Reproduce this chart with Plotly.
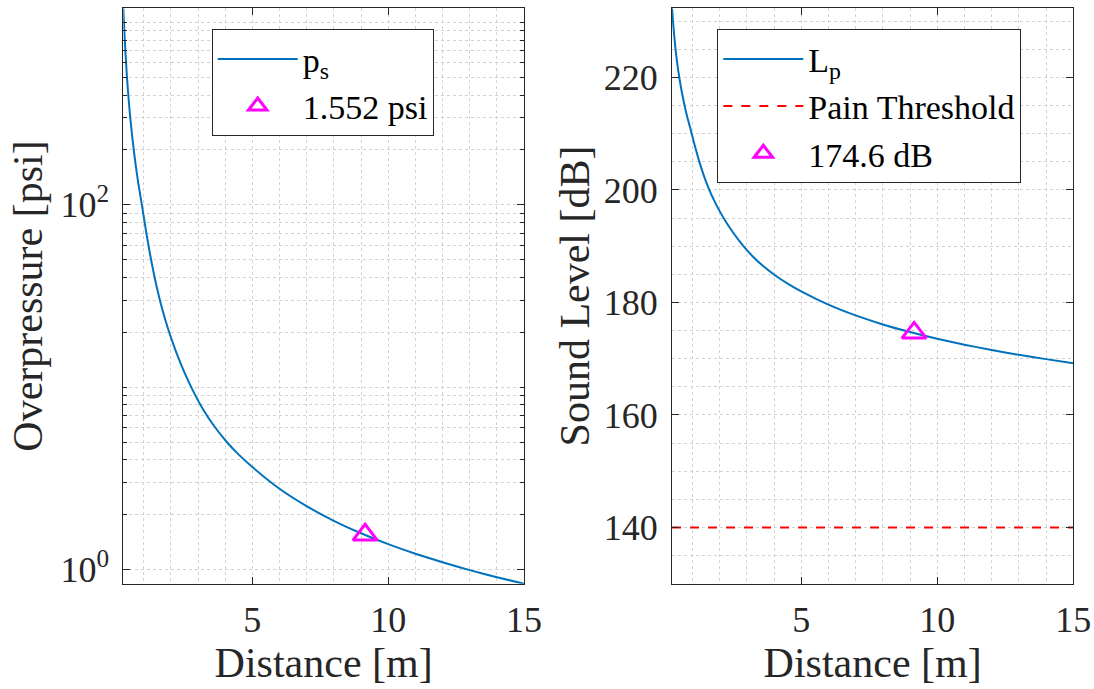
import plotly.graph_objects as go

# ---- data ----
distance_m = [0.25, 0.30, 0.38, 0.45, 0.51, 0.60, 0.70, 0.80, 0.94, 1.00, 1.10, 1.25,
              1.415, 1.60, 1.80, 1.97, 2.20, 2.50, 2.80, 3.20, 3.60, 4.06, 4.50, 5.0,
              6.0, 7.0, 8.0, 9.0, 10.0, 11.0, 12.0, 13.0, 14.0, 15.0]
overpressure_psi = [1197, 823.4, 513.2, 373.4, 296.6, 221.3, 167.8, 131.9, 98.7, 86.6,
                    69.9, 52.1, 39.2, 29.9, 23.3, 19.4, 15.55, 12.07, 9.68, 7.51, 6.11,
                    5.01, 4.27, 3.65, 2.776, 2.227, 1.852, 1.583, 1.380, 1.223, 1.097,
                    0.994, 0.909, 0.837]
sound_level_db = [232.31, 229.06, 224.95, 222.19, 220.19, 217.65, 215.24, 213.15, 210.63,
                  209.50, 207.64, 205.09, 202.61, 200.26, 198.11, 196.51, 194.59, 192.39,
                  190.47, 188.27, 186.47, 184.75, 183.37, 181.99, 179.62, 177.70, 176.10,
                  174.74, 173.55, 172.50, 171.55, 170.70, 169.93, 169.21]
marker_distance = 9.15
marker_psi = 1.552
marker_db = 174.6
pain_threshold_db = 140
threshold_x = [0.25, 15.0]

left_yticks = [1, 100]
left_yticktext = ["10<sup>0</sup>", "10<sup>2</sup>"]
left_yminor = [2, 3, 4, 5, 6, 7, 8, 9, 10, 20, 30, 40, 50, 60, 70, 80, 90,
               200, 300, 400, 500, 600, 700, 800, 900, 1000]
xticks = [5, 10, 15]
right_yticks = [140, 160, 180, 200, 220]

FONT = "Liberation Serif"
AX = "#262626"
GRID = "#d2d2d2"
BLUE = "#0072BD"
MAG = "#FF00FF"

fig = go.Figure()
fig.add_trace(go.Scatter(x=distance_m, y=overpressure_psi, mode="lines",
                         line=dict(color=BLUE, width=2, shape="spline", smoothing=0.5),
                         name="p<sub>s</sub>", xaxis="x", yaxis="y", legend="legend"))
fig.add_trace(go.Scatter(x=[marker_distance], y=[marker_psi], mode="markers",
                         marker=dict(symbol="triangle-up-open", size=21, color=MAG,
                                     line=dict(color=MAG, width=3)),
                         name="1.552 psi", xaxis="x", yaxis="y", legend="legend"))
fig.add_trace(go.Scatter(x=distance_m, y=sound_level_db, mode="lines",
                         line=dict(color=BLUE, width=2, shape="spline", smoothing=0.5),
                         name="L<sub>p</sub>", xaxis="x2", yaxis="y2", legend="legend2"))
fig.add_trace(go.Scatter(x=threshold_x, y=[pain_threshold_db] * len(threshold_x), mode="lines",
                         line=dict(color="#FF0000", width=2, dash="dash"),
                         name="Pain Threshold", xaxis="x2", yaxis="y2", legend="legend2"))
fig.add_trace(go.Scatter(x=[marker_distance], y=[marker_db], mode="markers",
                         marker=dict(symbol="triangle-up-open", size=21, color=MAG,
                                     line=dict(color=MAG, width=3)),
                         name="174.6 dB", xaxis="x2", yaxis="y2", legend="legend2"))

common = dict(showline=True, linecolor=AX, linewidth=1, mirror="ticks",
              ticks="inside", ticklen=7, tickcolor=AX, tickwidth=1,
              showgrid=True, gridcolor=GRID, griddash="dot", gridwidth=1,
              zeroline=False, automargin=False,
              tickfont=dict(family=FONT, size=36, color=AX))
TITLE_FONT = dict(family=FONT, size=42, color=AX)

xdom1 = [0.1127, 0.4790]
xdom2 = [0.6143, 0.9810]
ydom = [0.1528, 0.988]

fig.update_layout(
    width=1094, height=689,
    margin=dict(l=0, r=0, t=0, b=0, autoexpand=False),
    paper_bgcolor="white", plot_bgcolor="white",
    font=dict(family=FONT, color=AX),
    xaxis=dict(domain=xdom1, anchor="y", range=[0.25, 15], tickvals=xticks,
               title=dict(text="Distance [m]", font=TITLE_FONT, standoff=4),
               minor=dict(dtick=1, tick0=0, showgrid=True, gridcolor=GRID, griddash="dot", ticks=""),
               ticklabelstandoff=4, **common),
    yaxis=dict(domain=ydom, anchor="x", type="log", range=[-0.0772, 3.078],
               tickvals=left_yticks, ticktext=left_yticktext,
               title=dict(text="Overpressure [psi]", font=TITLE_FONT, standoff=4),
               minor=dict(tickvals=left_yminor, showgrid=True, gridcolor=GRID, griddash="dot",
                          ticks="inside", ticklen=4, tickcolor=AX),
               ticklabelstandoff=6, **common),
    xaxis2=dict(domain=xdom2, anchor="y2", range=[0.25, 15], tickvals=xticks,
                title=dict(text="Distance [m]", font=TITLE_FONT, standoff=4),
                minor=dict(dtick=1, tick0=0, showgrid=True, gridcolor=GRID, griddash="dot", ticks=""),
                ticklabelstandoff=4, **common),
    yaxis2=dict(domain=ydom, anchor="x2", range=[130, 232.31], tickvals=right_yticks,
                title=dict(text="Sound Level [dB]", font=TITLE_FONT, standoff=1),
                minor=dict(dtick=5, tick0=0, showgrid=True, gridcolor=GRID, griddash="dot", ticks=""),
                ticklabelstandoff=6, **common),
    legend=dict(x=0.1935, y=0.9575, xanchor="left", yanchor="top",
                bgcolor="white", bordercolor=AX, borderwidth=1,
                font=dict(family=FONT, size=34, color="black"), itemwidth=80),
    legend2=dict(x=0.6557, y=0.9575, xanchor="left", yanchor="top",
                 bgcolor="white", bordercolor=AX, borderwidth=1,
                 font=dict(family=FONT, size=34, color="black"), itemwidth=80),
)

fig.write_html("out.html")
